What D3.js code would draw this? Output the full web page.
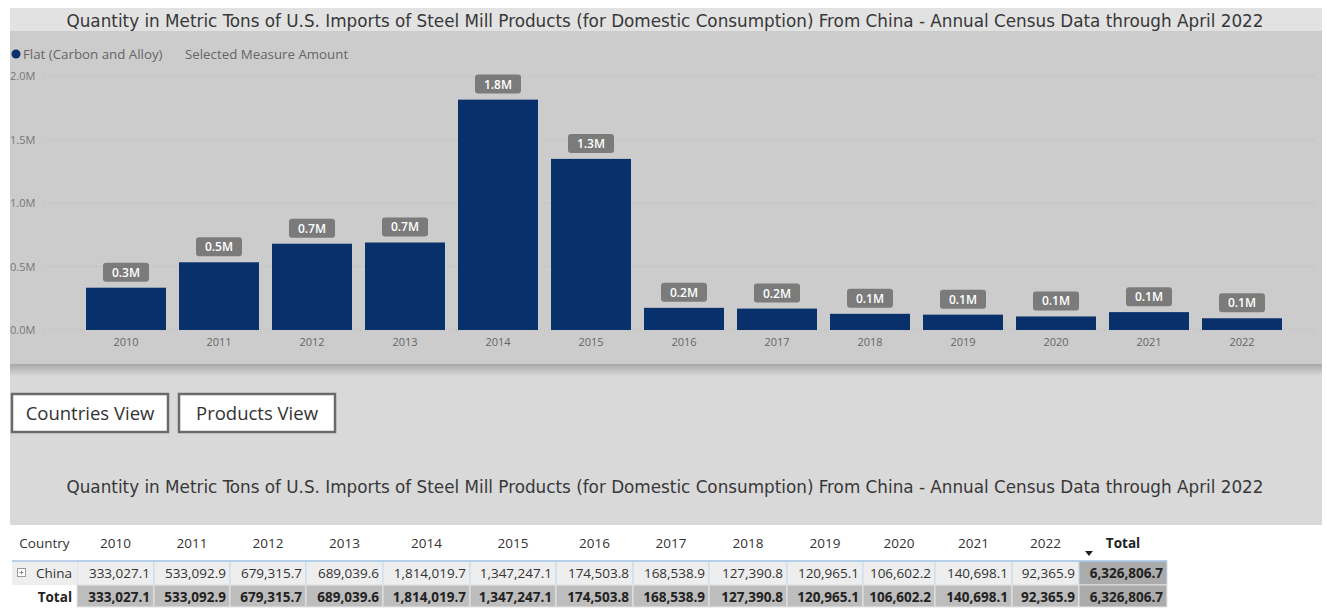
<!DOCTYPE html>
<html lang="en">
<head>
  <meta charset="UTF-8">
  <title>Steel Mill Imports from China</title>
  <script src="https://d3js.org/d3.v7.min.js"></script>
  <style>
    body { margin: 0; background: #fff; }
    svg { display: block; font-family: "Open Sans", sans-serif; }
    .title { font-family: "DejaVu Sans Condensed", sans-serif; font-size: 17px; fill: #383838; }
    .tick-y { font-size: 11px; fill: #777; }
    .tick-x { font-size: 11px; fill: #666; }
    .legend { font-size: 13.3px; fill: #666; }
    .grid { stroke: #b4b4b4; stroke-dasharray: 1,3; }
    .lbl-box { fill: #7b7b7b; }
    .lbl-text { font-size: 12px; fill: #fff; font-weight: 600; }
    .btn rect { fill: #fff; stroke: #6b6b6b; stroke-width: 2.5px; }
    .btn text { font-size: 18.5px; fill: #333; }
    .cell { font-size: 13.5px; fill: #333; }
    .bold { font-weight: 700; fill: #222; }
  </style>
</head>
<body>
  <svg width="1327" height="608"></svg>

  <script>
    const titleText = "Quantity in Metric Tons of U.S. Imports of Steel Mill Products (for Domestic Consumption) From China - Annual Census Data through April 2022";
    const years = ["2010", "2011", "2012", "2013", "2014", "2015", "2016", "2017", "2018", "2019", "2020", "2021", "2022"];
    const values = [333027.1, 533092.9, 679315.7, 689039.6, 1814019.7, 1347247.1, 174503.8, 168538.9, 127390.8, 120965.1, 106602.2, 140698.1, 92365.9];
    const yTicks = [0, 500000, 1000000, 1500000, 2000000];
    const seriesName = "Flat (Carbon and Alloy)";
    const measureName = "Selected Measure Amount";
    const buttons = ["Countries View", "Products View"];
    const rowName = "China";
    const grandTotal = 6326806.7;

    const svg = d3.select("svg");
    const navy = "#08306a";

    // page backgrounds
    svg.append("rect").attr("x", 10).attr("y", 8).attr("width", 1312).attr("height", 517).attr("fill", "#d9d9d9");
    svg.append("rect").attr("x", 10).attr("y", 8).attr("width", 1312).attr("height", 23).attr("fill", "#e2e2e2");

    const defs = svg.append("defs");
    const grad = defs.append("linearGradient").attr("id", "shadow").attr("x1", 0).attr("y1", 0).attr("x2", 0).attr("y2", 1);
    grad.append("stop").attr("offset", "0%").attr("stop-color", "#a8a8a8");
    grad.append("stop").attr("offset", "100%").attr("stop-color", "#d9d9d9");
    svg.append("rect").attr("x", 10).attr("y", 364).attr("width", 1312).attr("height", 12).attr("fill", "url(#shadow)");
    svg.append("rect").attr("x", 10).attr("y", 31).attr("width", 1312).attr("height", 333).attr("fill", "#cccccc");

    svg.append("text").attr("class", "title")
      .attr("x", 665).attr("y", 27).attr("text-anchor", "middle")
      .attr("textLength", 1197).attr("lengthAdjust", "spacingAndGlyphs")
      .text(titleText);

    // legend
    svg.append("circle").attr("cx", 16).attr("cy", 54).attr("r", 4.5).attr("fill", navy);
    svg.append("text").attr("class", "legend").attr("x", 23).attr("y", 59).text(seriesName);
    svg.append("text").attr("class", "legend").attr("x", 185).attr("y", 59).text(measureName);

    // scales
    const x = d3.scaleBand().domain(years).range([79.5, 1288.5]).paddingInner(0.14).paddingOuter(0.07);
    const y = d3.scaleLinear().domain([0, 2000000]).range([330, 76]);
    const fmtM = v => d3.format(".1f")(v / 1e6) + "M";

    svg.append("g").selectAll("line").data(yTicks).join("line")
      .attr("class", "grid")
      .attr("x1", 44).attr("x2", 1316)
      .attr("y1", d => y(d)).attr("y2", d => y(d));

    svg.append("g").selectAll("text").data(yTicks).join("text")
      .attr("class", "tick-y")
      .attr("x", 10).attr("y", d => y(d) + 4)
      .text(d => fmtM(d));

    svg.append("g").selectAll("rect").data(values).join("rect")
      .attr("x", (d, i) => x(years[i]))
      .attr("y", d => y(d))
      .attr("width", x.bandwidth())
      .attr("height", d => y(0) - y(d))
      .attr("fill", navy);

    svg.append("g").selectAll("text").data(years).join("text")
      .attr("class", "tick-x")
      .attr("x", d => x(d) + x.bandwidth() / 2)
      .attr("y", 346)
      .attr("text-anchor", "middle")
      .text(d => d);

    // data labels
    const lbl = svg.append("g").selectAll("g").data(values).join("g")
      .attr("transform", (d, i) => `translate(${x(years[i]) + x.bandwidth() / 2},${y(d) - 6})`);
    lbl.append("rect").attr("class", "lbl-box")
      .attr("x", -23).attr("y", -19).attr("width", 46).attr("height", 19).attr("rx", 3);
    lbl.append("text").attr("class", "lbl-text")
      .attr("text-anchor", "middle").attr("y", -5)
      .text(d => fmtM(d));

    // buttons
    const btn = svg.append("g").selectAll("g").data(buttons).join("g")
      .attr("class", "btn")
      .attr("transform", (d, i) => `translate(${12 + i * 167},394)`);
    btn.append("rect").attr("width", 156).attr("height", 38);
    btn.append("text").attr("x", 78).attr("y", 26).attr("text-anchor", "middle").text(d => d);

    svg.append("text").attr("class", "title")
      .attr("x", 665).attr("y", 493).attr("text-anchor", "middle")
      .attr("textLength", 1197).attr("lengthAdjust", "spacingAndGlyphs")
      .text(titleText);

    // table
    svg.append("rect").attr("x", 10).attr("y", 525).attr("width", 1312).attr("height", 83).attr("fill", "#fff");

    const colWidths = [65, 77, 76, 76, 77, 87, 86, 77, 76, 78, 76, 72, 77, 67, 88];
    const colX = [12];
    colWidths.forEach(w => colX.push(colX[colX.length - 1] + w));
    const headers = ["Country", ...years, "Total"];
    const rowVals = [...values, grandTotal];
    const fmtN = d3.format(",.1f");
    const rowTop = [561, 585];
    const rowH = [24, 22];

    // header
    svg.append("g").selectAll("text").data(headers).join("text")
      .attr("class", (d, i) => i === headers.length - 1 ? "cell bold" : "cell")
      .attr("x", (d, i) => (colX[i] + colX[i + 1]) / 2)
      .attr("y", 548)
      .attr("text-anchor", "middle")
      .text(d => d);
    const triX = colX[colX.length - 2] + 10;
    svg.append("path").attr("d", `M${triX - 4},551L${triX + 4},551L${triX},556Z`).attr("fill", "#222");

    // cell backgrounds
    [0, 1].forEach(r => {
      svg.append("g").selectAll("rect").data(rowVals).join("rect")
        .attr("x", (d, i) => colX[i + 1])
        .attr("y", rowTop[r])
        .attr("width", (d, i) => colWidths[i + 1])
        .attr("height", rowH[r])
        .attr("fill", (d, i) => i === rowVals.length - 1 ? "#ababab" : (r === 0 ? "#eeeeee" : "#bdbdbd"))
        .attr("stroke", r === 0 ? "#c7dbee" : "#e6e6e6")
        .attr("stroke-width", 1);
      svg.append("g").selectAll("text").data(rowVals).join("text")
        .attr("class", (d, i) => (r === 1 || i === rowVals.length - 1) ? "cell bold" : "cell")
        .attr("x", (d, i) => colX[i + 2] - 4)
        .attr("y", rowTop[r] + 17)
        .attr("text-anchor", "end")
        .text(d => fmtN(d));
    });
    svg.append("rect").attr("x", colX[0]).attr("y", rowTop[0]).attr("width", colWidths[0]).attr("height", rowH[0]).attr("fill", "#eeeeee");
    svg.append("line").attr("x1", colX[0]).attr("x2", colX[colX.length - 1]).attr("y1", rowTop[0]).attr("y2", rowTop[0]).attr("stroke", "#a9c6e6").attr("stroke-width", 1.5);

    // expand icon + row labels
    svg.append("rect").attr("x", 17.5).attr("y", 568.5).attr("width", 8).attr("height", 8).attr("fill", "#fff").attr("stroke", "#999");
    svg.append("path").attr("d", "M19.5,572.5H23.5M21.5,570.5V574.5").attr("stroke", "#888");
    svg.append("text").attr("class", "cell").attr("x", colX[1] - 5).attr("y", rowTop[0] + 17).attr("text-anchor", "end").text(rowName);
    svg.append("text").attr("class", "cell bold").attr("x", colX[1] - 5).attr("y", rowTop[1] + 17).attr("text-anchor", "end").text("Total");
  </script>
</body>
</html>
